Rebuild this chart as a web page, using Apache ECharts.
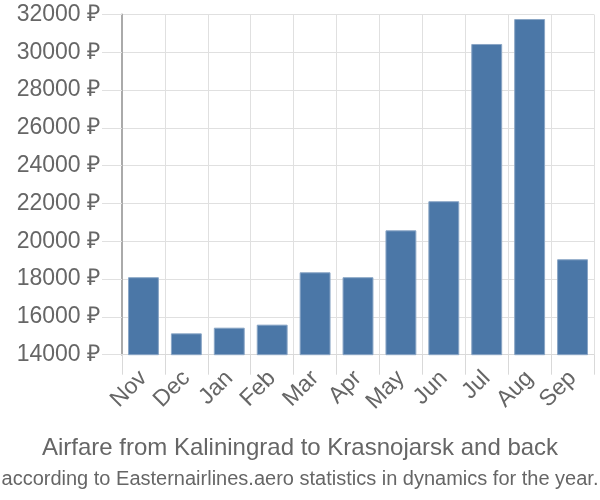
<!DOCTYPE html>
<html><head><meta charset="utf-8">
<script src="https://cdn.jsdelivr.net/npm/echarts@6/dist/echarts.min.js"></script>
<style>html,body{margin:0;padding:0;background:#fff}#c{width:600px;height:500px}</style>
</head><body><div id="c"></div>
<script>
const categories = ["Nov","Dec","Jan","Feb","Mar","Apr","May","Jun","Jul","Aug","Sep"];
const prices = [18100, 15130, 15430, 15590, 18360, 18100, 20580, 22120, 30440, 31760, 19050];
const yMin = 14000, yMax = 32000, yStep = 2000;
const titleText = "Airfare from Kaliningrad to Krasnojarsk and back";
const subtitleText = "according to Easternairlines.aero statistics in dynamics for the year.";

const chart = echarts.init(document.getElementById('c'), null, {renderer:'canvas'});
chart.setOption({
  animation:false,
  grid:{left:122, right:6, top:14.5, bottom:145.3, containLabel:false},
  title:[
    {text:titleText, left:'center', top:431, textStyle:{fontFamily:'Liberation Sans, Arial', fontSize:24, fontWeight:'normal', color:'#666'}},
    {text:subtitleText, left:'center', top:464, textStyle:{fontFamily:'Liberation Sans, Arial', fontSize:20, fontWeight:'normal', color:'#666'}}
  ],
  xAxis:{
    type:'category', data:categories,
    axisLine:{show:true, lineStyle:{color:'#d9d9d9', width:1}},
    axisTick:{show:true, length:20, lineStyle:{color:'#d9d9d9'}},
    splitLine:{show:true, lineStyle:{color:'#e0e0e0', width:1}},
    axisLabel:{rotate:45, margin:20, fontSize:23, color:'#666', fontFamily:'Liberation Sans, Arial'}
  },
  yAxis:{
    type:'value', min:yMin, max:yMax, interval:yStep,
    axisLine:{show:true, lineStyle:{color:'#aaa', width:2}},
    axisTick:{show:true, length:20, lineStyle:{color:'#e0e0e0'}},
    splitLine:{show:true, lineStyle:{color:'#e0e0e0', width:1}},
    axisLabel:{margin:22, fontSize:23, color:'#666', fontFamily:'Liberation Sans, Arial', formatter: v => v + ' ₽'}
  },
  series:[{
    type:'bar', data:prices, barWidth:'72%',
    itemStyle:{color:'#4b77a7', borderColor:'#8aa6c6', borderWidth:1}
  }]
});
</script></body></html>
